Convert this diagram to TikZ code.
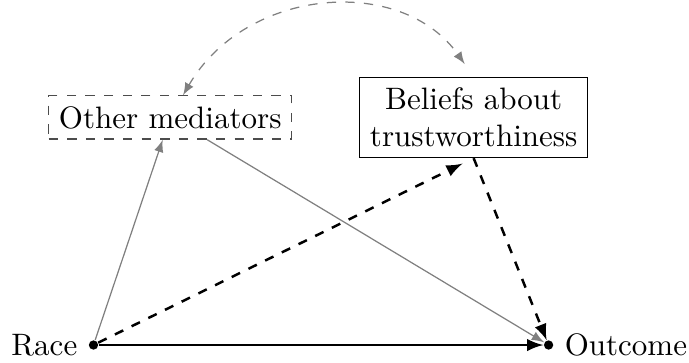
\documentclass[tikz,border=0pt]{standalone}
\begin{document}
\begin{tikzpicture}[auto,
    vardot/.style ={circle, fill, inner sep=0pt, minimum size=3pt},
    mediatorbox/.style ={draw=black!70, dashed},
    beliefbox/.style ={draw, align=center},
    directarrow/.style ={thick, -latex},
    indirectarrow/.style ={thick, dashed, -latex},
    otherarrow/.style ={gray, -latex}]
   \useasboundingbox (-1.06,-0.193) rectangle (6.752,3.912);
   \node[vardot, label=left:Race] (R)  at (0,0)  {};
   \node[vardot, label=right:Outcome] (O)  at (5.16,0)  {};
   \node[mediatorbox] (M)  at (0.87,2.58)  {Other mediators};
   \node[beliefbox] (B)  at (4.31,2.58)  {Beliefs about\\trustworthiness};

   \draw[directarrow] (R) to  (O);
   \draw[otherarrow] (R) to  (M);
   \draw[otherarrow] (M) to  (O);
   \draw[indirectarrow, shorten >=4pt] (R) to  (B.south);
   \draw[indirectarrow] (B.south) to  (O);
   \draw[gray, dashed, latex-latex, shorten >=5pt] (M) to[out=60, in=125, looseness=1.1]  (B.north);
 \end{tikzpicture}
\end{document}
